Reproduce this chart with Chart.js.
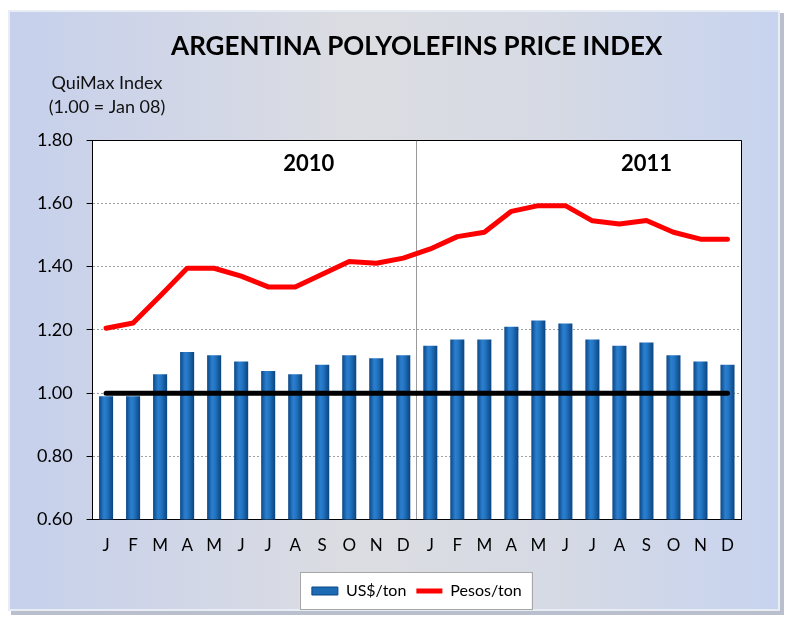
<!DOCTYPE html>
<html>
<head>
<meta charset="utf-8">
<script src="https://cdn.jsdelivr.net/npm/chart.js@4.4.0/dist/chart.umd.min.js"></script>
<style>
  html, body { margin: 0; padding: 0; background: #ffffff; }
  canvas { display: block; }
</style>
</head>
<body>
<canvas id="c" width="789" height="617"></canvas>
<script>
const months = ['J','F','M','A','M','J','J','A','S','O','N','D','J','F','M','A','M','J','J','A','S','O','N','D'];
const usdPerTon = [0.99,0.99,1.06,1.13,1.12,1.10,1.07,1.06,1.09,1.12,1.11,1.12,1.15,1.17,1.17,1.21,1.23,1.22,1.17,1.15,1.16,1.12,1.10,1.09];
const pesosPerTon = [1.205,1.222,1.307,1.395,1.395,1.370,1.336,1.336,1.376,1.416,1.411,1.427,1.456,1.495,1.509,1.575,1.593,1.593,1.545,1.535,1.546,1.509,1.487,1.487];
const baseline = [1.00,1.00,1.00,1.00,1.00,1.00,1.00,1.00,1.00,1.00,1.00,1.00,1.00,1.00,1.00,1.00,1.00,1.00,1.00,1.00,1.00,1.00,1.00,1.00];
const yTickValues = [0.60,0.80,1.00,1.20,1.40,1.60,1.80];
const yearLabels = ['2010','2011'];
const yearCenters = [7.5, 20];
const unitLines = ['QuiMax Index','(1.00 = Jan 08)'];
const seriesNames = ['US$/ton','Pesos/ton'];
const titleText = 'ARGENTINA POLYOLEFINS PRICE INDEX';

const FONT = 'Lato';
const BAR_PCT = 0.52;

function barGradient(ctx) {
  const chart = ctx.chart;
  const xs = chart.scales && chart.scales.x;
  if (!chart.chartArea || !xs || ctx.dataIndex === undefined) return '#1C69B4';
  const cx = xs.getPixelForValue(ctx.dataIndex);
  const w = (xs.width / months.length) * BAR_PCT;
  const g = chart.ctx.createLinearGradient(cx - w / 2, 0, cx + w / 2, 0);
  g.addColorStop(0, '#0B4685');
  g.addColorStop(0.35, '#2A7FCF');
  g.addColorStop(0.55, '#2476C4');
  g.addColorStop(1, '#0A4480');
  return g;
}

const decor = {
  id: 'decor',
  beforeDraw(chart) {
    const c = chart.ctx;
    const W = chart.width, H = chart.height;
    c.save();
    c.fillStyle = '#ffffff';
    c.fillRect(0, 0, W, H);
    c.fillStyle = '#b9bfcc';
    c.fillRect(11, 13, 773, 602);
    const g = c.createLinearGradient(8, 0, 781, 0);
    g.addColorStop(0, '#c6d0ec');
    g.addColorStop(0.45, '#dcdde2');
    g.addColorStop(0.7, '#d6dae4');
    g.addColorStop(1, '#c7d3ef');
    c.fillStyle = g;
    c.fillRect(8, 10, 772, 601);
    c.strokeStyle = '#e8ecf4';
    c.lineWidth = 2;
    c.strokeRect(9, 11, 770, 599);
    const a = chart.chartArea;
    c.fillStyle = '#ffffff';
    c.fillRect(a.left, a.top, a.right - a.left, a.bottom - a.top);
    const lg = chart.legend;
    if (lg && lg.legendHitBoxes && lg.legendHitBoxes.length) {
      const hb = lg.legendHitBoxes;
      const l = Math.min(...hb.map(h => h.left)) - 12;
      const r = Math.max(...hb.map(h => h.left + h.width)) + 10;
      const t = Math.min(...hb.map(h => h.top)) - 11;
      const b = Math.max(...hb.map(h => h.top + h.height)) + 10;
      c.fillStyle = '#ffffff';
      c.fillRect(l, t, r - l, b - t);
      c.strokeStyle = '#a6a6a6';
      c.lineWidth = 1;
      c.strokeRect(Math.round(l) + 0.5, Math.round(t) + 0.5, Math.round(r - l), Math.round(b - t));
    }
    c.fillStyle = '#111111';
    c.font = '18px ' + FONT;
    c.textAlign = 'center';
    c.textBaseline = 'middle';
    c.fillText(unitLines[0], 107, 83);
    c.fillText(unitLines[1], 107, 107);
    c.restore();
  },
  afterDatasetsDraw(chart) {
    const c = chart.ctx;
    const a = chart.chartArea;
    const xs = chart.scales.x;
    c.save();
    c.strokeStyle = '#000000';
    c.lineWidth = 1;
    c.beginPath();
    c.moveTo(a.left, Math.round(a.top) + 0.5);
    c.lineTo(a.right, Math.round(a.top) + 0.5);
    c.moveTo(Math.round(a.right) + 0.5, a.top);
    c.lineTo(Math.round(a.right) + 0.5, a.bottom);
    c.stroke();
    c.fillStyle = '#000000';
    c.font = 'bold 22px ' + FONT;
    c.textAlign = 'center';
    c.textBaseline = 'middle';
    yearLabels.forEach((t, i) => {
      const v = yearCenters[i];
      const lo = Math.floor(v), hi = Math.ceil(v);
      const x = (xs.getPixelForValue(lo) + xs.getPixelForValue(hi)) / 2;
      c.fillText(t, x, a.top + 24);
    });
    c.restore();
  }
};

new Chart(document.getElementById('c'), {
  type: 'bar',
  data: {
    labels: months,
    datasets: [
      {
        type: 'bar',
        label: seriesNames[0],
        data: usdPerTon,
        backgroundColor: barGradient,
        borderColor: '#0A437E',
        borderWidth: 0,
        barPercentage: BAR_PCT,
        categoryPercentage: 1,
        order: 3
      },
      {
        type: 'line',
        label: 'base',
        data: baseline,
        borderColor: '#000000',
        borderWidth: 5,
        borderCapStyle: 'round',
        pointRadius: 0,
        tension: 0,
        order: 2
      },
      {
        type: 'line',
        label: seriesNames[1],
        data: pesosPerTon,
        borderColor: '#ff0000',
        backgroundColor: '#ff0000',
        borderWidth: 5,
        borderCapStyle: 'round',
        borderJoinStyle: 'round',
        pointRadius: 0,
        tension: 0,
        order: 1
      }
    ]
  },
  options: {
    responsive: false,
    devicePixelRatio: 1,
    animation: false,
    layout: { padding: { left: 23, right: 48, top: 31, bottom: 8 } },
    plugins: {
      title: {
        display: true,
        text: titleText,
        fullSize: false,
        color: '#000000',
        font: { family: FONT, size: 26, weight: 'bold' },
        padding: { top: 0, bottom: 78 }
      },
      legend: {
        display: true,
        position: 'bottom',
        fullSize: false,
        labels: {
          color: '#000000',
          font: { family: FONT, size: 16 },
          usePointStyle: true,
          pointStyleWidth: 26,
          boxHeight: 8,
          padding: 10,
          filter: (item) => item.text !== 'base',
          sort: (a, b) => a.datasetIndex - b.datasetIndex,
          generateLabels(chart) {
            const items = Chart.defaults.plugins.legend.labels.generateLabels(chart);
            items.forEach(it => {
              if (it.datasetIndex === 0) {
                it.pointStyle = 'rect';
                it.fillStyle = '#1D6AB5';
                it.strokeStyle = '#0B4685';
                it.lineWidth = 1;
              } else if (it.datasetIndex === 2) {
                it.pointStyle = 'line';
                it.strokeStyle = '#ff0000';
                it.lineWidth = 5;
              }
            });
            return items;
          }
        }
      },
      tooltip: { enabled: false }
    },
    scales: {
      x: {
        offset: true,
        ticks: { color: '#000000', font: { family: FONT, size: 17 }, padding: 16, maxRotation: 0, autoSkip: false },
        grid: {
          offset: true,
          drawTicks: false,
          color: (ctx) => (ctx.index === 12 ? '#9a9a9a' : 'rgba(0,0,0,0)'),
          lineWidth: 1
        },
        border: { display: true, color: '#000000', width: 1 },
        afterFit(scale) { scale.height += 1; }
      },
      y: {
        min: 0.6,
        max: 1.8,
        afterBuildTicks(scale) { scale.ticks = yTickValues.map(v => ({ value: v })); },
        ticks: {
          color: '#000000',
          font: { family: FONT, size: 18 },
          padding: 14,
          callback: (v) => Number(v).toFixed(2)
        },
        grid: {
          color: (ctx) => {
            const v = ctx.tick ? ctx.tick.value : null;
            if (v === null) return 'rgba(0,0,0,0)';
            if (Math.abs(v - 0.6) < 1e-6 || Math.abs(v - 1.8) < 1e-6) return 'rgba(0,0,0,0)';
            return '#a0a0a0';
          },
          tickColor: '#000000',
          tickLength: 6,
          lineWidth: 1
        },
        border: { display: true, color: '#000000', width: 1, dash: [2, 2] }
      }
    }
  },
  plugins: [decor]
});
</script>
</body>
</html>
